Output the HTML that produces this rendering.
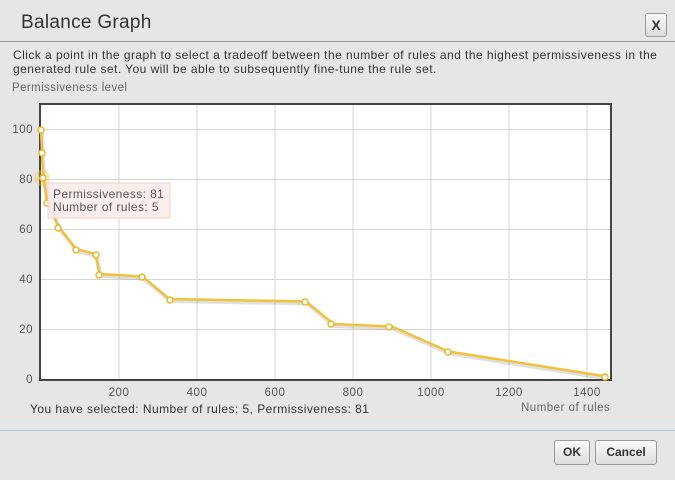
<!DOCTYPE html>
<html><head><style>
body{margin:0;width:675px;height:480px;background:#e6e6e6;font-family:"Liberation Sans",sans-serif;position:relative;overflow:hidden;color:#333}
.a{position:absolute;white-space:nowrap}
.btn{position:absolute;border:1px solid #999;border-radius:3px;background:linear-gradient(#fafafa,#ddd);font-weight:bold;font-size:12px;text-align:center;line-height:22px;color:#333}
</style></head><body>
<div class="a" style="left:21px;top:12px;font-size:19px;letter-spacing:0.3px;color:#333">Balance Graph</div>
<div class="btn" style="left:645px;top:13px;width:20px;height:22px;font-size:14px">X</div>
<div class="a" style="left:0;top:41px;width:675px;height:1px;background:#999"></div>
<div class="a" style="left:13px;top:48px;font-size:12px;letter-spacing:0.45px;line-height:14px;color:#333">Click a point in the graph to select a tradeoff between the number of rules and the highest permissiveness in the<br>generated rule set. You will be able to subsequently fine-tune the rule set.</div>
<div class="a" style="left:12px;top:82px;font-size:11.5px;letter-spacing:0.4px;color:#666">Permissiveness level</div>
<svg class="a" style="left:0;top:0" width="675" height="480">
<rect x="40" y="104" width="571" height="276" fill="#fff" stroke="#444" stroke-width="2"/>
<g stroke="#d6d6d6" stroke-width="1">
<line x1="119" y1="105" x2="119" y2="379"/><line x1="197" y1="105" x2="197" y2="379"/><line x1="275" y1="105" x2="275" y2="379"/><line x1="353" y1="105" x2="353" y2="379"/><line x1="431" y1="105" x2="431" y2="379"/><line x1="509" y1="105" x2="509" y2="379"/><line x1="587" y1="105" x2="587" y2="379"/>
<line x1="41" y1="129.5" x2="610" y2="129.5"/><line x1="41" y1="179.5" x2="610" y2="179.5"/><line x1="41" y1="229.5" x2="610" y2="229.5"/><line x1="41" y1="279.5" x2="610" y2="279.5"/><line x1="41" y1="329.5" x2="610" y2="329.5"/>
</g>
<g font-size="11.5" letter-spacing="0.5" fill="#555" text-anchor="end">
<text x="33" y="133">100</text><text x="33" y="183">80</text><text x="33" y="233">60</text><text x="33" y="283">40</text><text x="33" y="333">20</text><text x="33" y="383">0</text>
</g>
<g font-size="11.5" letter-spacing="0.5" fill="#555" text-anchor="middle">
<text x="119" y="396">200</text><text x="197" y="396">400</text><text x="275" y="396">600</text><text x="353" y="396">800</text><text x="431" y="396">1000</text><text x="509" y="396">1200</text><text x="587" y="396">1400</text>
</g>
<polyline fill="none" stroke="#000" stroke-opacity="0.12" stroke-width="4" transform="translate(1,2)" points="41,129 42,151.5 43,176.5 47,201.5 58.5,226.5 76,249 95.5,254 99.5,274 142.5,276.5 169.5,299 306,301.5 333.5,324 392,326.5 448.5,351.5 606.5,376.5"/>
<polyline fill="none" stroke="#f0c33c" stroke-width="2.5" points="41,129 42,151.5 43,176.5 47,201.5 58.5,226.5 76,249 95.5,254 99.5,274 142.5,276.5 169.5,299 306,301.5 333.5,324 392,326.5 448.5,351.5 606.5,376.5"/>
<circle cx="42" cy="178" r="8" fill="#f0c33c" opacity="0.35"/>
<g fill="#fff" stroke="#e8b82c" stroke-width="1.5">
<circle cx="41" cy="130" r="3"/><circle cx="42" cy="153" r="3"/><circle cx="43" cy="178" r="3"/><circle cx="47" cy="203" r="3"/><circle cx="58" cy="228" r="3"/><circle cx="76" cy="250" r="3"/><circle cx="96" cy="255" r="3"/><circle cx="99" cy="275" r="3"/><circle cx="142" cy="277" r="3"/><circle cx="170" cy="300" r="3"/><circle cx="305" cy="302" r="3"/><circle cx="331" cy="324" r="3"/><circle cx="389" cy="327" r="3"/><circle cx="448" cy="352" r="3"/><circle cx="605" cy="377" r="3"/>
</g>
<rect x="48" y="183" width="122" height="35" fill="#fdecec" fill-opacity="0.9" stroke="#f5cccc"/>
<text x="53" y="198" font-size="12" letter-spacing="0.4" fill="#555">Permissiveness: 81</text>
<text x="53" y="211" font-size="12" letter-spacing="0.4" fill="#555">Number of rules: 5</text>
</svg>
<div class="a" style="left:30px;top:402px;font-size:12px;letter-spacing:0.45px;color:#333">You have selected: Number of rules: 5, Permissiveness: 81</div>
<div class="a" style="left:521px;top:402px;font-size:11.5px;letter-spacing:0.5px;color:#666">Number of rules</div>
<div class="a" style="left:0;top:430px;width:675px;height:1px;background:#a8c8e0"></div>
<div class="btn" style="left:554px;top:440px;width:34px;height:23px">OK</div>
<div class="btn" style="left:595px;top:440px;width:60px;height:23px">Cancel</div>
</body></html>
